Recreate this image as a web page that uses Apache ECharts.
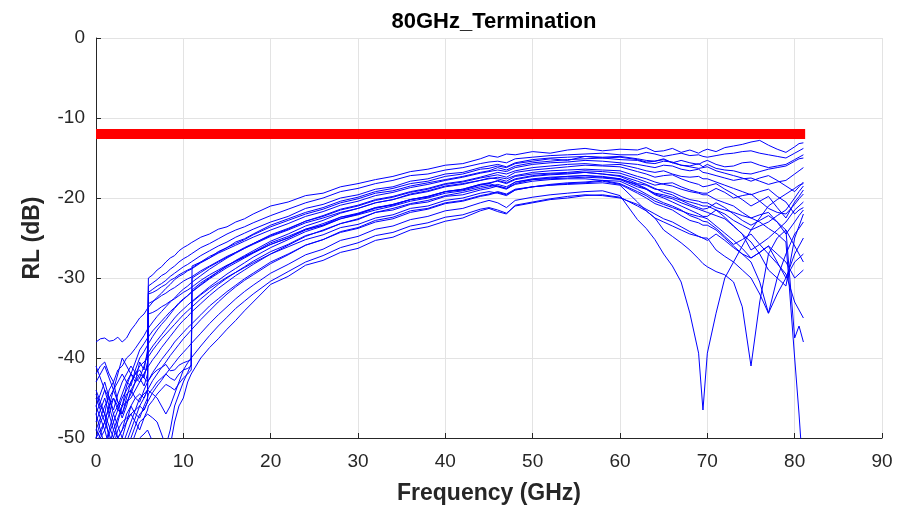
<!DOCTYPE html>
<html>
<head>
<meta charset="utf-8">
<script src="https://cdn.jsdelivr.net/npm/echarts@6/dist/echarts.min.js"></script>
<style>
html, body { margin: 0; padding: 0; background: #fff; }
#box { width: 910px; height: 510px; }
</style>
</head>
<body>
<div id="box"></div>
<script>
// frequency points (GHz) shared by every trace
var freq = [0,0.5,1,1.5,2,2.5,3,3.5,4,4.5,5,5.5,5.9,6,6.5,7,7.5,8,8.5,9,9.5,10,10.5,10.9,11,
    12,13,14,15,16,17,18,20,22,24,26,28,30,32,34,36,38,40,42,44,45,46,47,48,
    50,52,54,56,58,60,62,63,64,65,66,67,68,69,69.5,70,71,72,73,74,75,76,77,78,79,80,80.5,81];

// return loss traces (dB)
var t1 = [-44.5,-46,-47,-44,-43,-45.5,-46,-43.5,-42,-43,-40.5,-41.5,-39,-30,-29.6,-29,-28.6,-28,-27.5,-27.2,-26.6,-26.2,-25.9,-25.6,-25.5,
    -24.9,-24.5,-23.9,-23.6,-23,-22.6,-22,-21,-20.5,-19.7,-19.4,-18.6,-18.2,-17.7,-17.3,-16.7,-16.4,-15.9,-15.7,-15.1,-14.7,-14.9,-14.5,-14.6,
    -14.2,-14.4,-14,-13.8,-14.1,-13.9,-14,-13.7,-14.2,-14.1,-13.8,-14.3,-14,-14.4,-14.1,-13.9,-14.2,-13.7,-13.5,-13.3,-13,-12.8,-13.4,-13.9,-14.3,-13.6,-13.2,-13.1];
var t2 = [-41,-42.5,-44,-46,-48,-46.5,-45,-44,-43,-42,-41.5,-42.5,-40.5,-31,-30.6,-30.2,-29.7,-29.4,-28.9,-28.5,-28,-27.6,-27.3,-27,-26.9,
    -26.2,-25.7,-25.1,-24.5,-24,-23.6,-23.1,-22.2,-21.4,-20.6,-20,-19.2,-18.8,-18.2,-17.8,-17.2,-17,-16.5,-16.2,-15.7,-15.5,-15.4,-15.6,-15.1,
    -14.9,-14.7,-14.6,-14.5,-14.4,-14.6,-14.6,-14.3,-14.5,-14.8,-14.6,-14.4,-14.7,-14.6,-14.8,-14.9,-14.7,-14.5,-14.4,-14.2,-14.1,-14.4,-14.6,-14.8,-15,-14.4,-14.1,-13.8];
var t3 = [-38,-37.6,-37.5,-37.9,-37.8,-37.4,-38,-37.5,-36.5,-35.8,-35,-34.5,-33.8,-33.6,-33,-32.4,-31.9,-31.3,-30.8,-30.2,-29.8,-29.5,-29.1,-28.9,-28.8,
    -28.1,-27.5,-26.7,-26.2,-25.5,-25.1,-24.5,-23.4,-22.6,-21.8,-21.2,-20.4,-19.9,-19.2,-18.8,-18.2,-17.9,-17.3,-17,-16.4,-16.3,-16,-16.2,-15.7,
    -15.4,-15.1,-15.3,-14.8,-15,-14.9,-15.2,-15.5,-15.4,-15.1,-15.6,-15.3,-15.6,-15.8,-15.5,-15.3,-15.8,-16.1,-16,-15.6,-15.5,-15.9,-16.2,-16,-15.8,-15.2,-14.9,-14.6];
var t4 = [-48,-46.5,-45,-47,-49,-47.5,-46,-44.5,-44,-45,-45.5,-44,-43,-42.8,-42,-41.5,-41.2,-40.8,-41.6,-41.5,-40.9,-40.6,-40.4,-40.2,-28.5,
    -28,-27.3,-26.8,-26.2,-25.7,-25.2,-24.6,-23.6,-22.8,-22,-21.4,-20.6,-20.1,-19.4,-19.1,-18.5,-18.1,-17.7,-17.3,-16.8,-16.6,-16.2,-16.5,-16,
    -15.6,-15.4,-15.2,-15.1,-15,-15.2,-15.3,-15.6,-15.7,-15.4,-15.5,-15.9,-16,-15.7,-16.1,-15.8,-16.3,-16.5,-16.6,-16.9,-17,-16.7,-16.4,-16.2,-16,-15.4,-15.1,-15];
var t5 = [-46,-47.5,-49,-47,-45,-46,-47.5,-46,-44,-43,-42.5,-43.5,-42,-32,-31.8,-31.5,-31.1,-30.8,-30.3,-30,-29.6,-29.3,-29,-28.8,-28.7,
    -28,-27.5,-26.9,-26.4,-25.9,-25.4,-24.9,-24,-23.2,-22.3,-21.7,-20.9,-20.4,-19.7,-19.3,-18.7,-18.3,-17.8,-17.4,-16.9,-16.7,-16.5,-16.7,-16.2,
    -15.8,-15.6,-15.5,-15.3,-15.4,-15.6,-15.8,-16,-16.2,-15.9,-16,-16.4,-16.6,-16.4,-16.8,-16.9,-17.2,-17.5,-17.8,-17.6,-17.5,-17.9,-18.3,-18,-17.8,-17,-16.6,-16.2];
var t6 = [-42,-41,-40.5,-42,-43,-41.5,-41,-40,-39.5,-38.8,-38,-37.2,-36.4,-36.2,-35.5,-34.8,-34.2,-33.6,-33,-32.5,-31.9,-31.4,-31,-30.6,-30.5,
    -29.7,-28.9,-28.2,-27.5,-26.9,-26.3,-25.7,-24.6,-23.8,-22.9,-22.2,-21.4,-20.9,-20.2,-19.8,-19.2,-18.8,-18.2,-17.9,-17.4,-17.1,-16.8,-17,-16.6,
    -16.2,-16,-15.8,-15.7,-15.9,-15.8,-16.3,-16.6,-16.8,-16.6,-17,-17.3,-17.4,-17.3,-17.6,-17.6,-18,-18.4,-18.8,-19.2,-19.6,-19.2,-18.9,-19.8,-20.5,-22,-21.5,-21.2];
var t7 = [-50,-48,-47,-50,-52,-50,-49,-47,-46,-47,-47.5,-46,-45,-44.5,-43.8,-43,-42.5,-42,-42.5,-42.8,-42,-41.5,-41.3,-41,-30,
    -29.3,-28.6,-28,-27.4,-26.8,-26.2,-25.7,-24.7,-23.9,-22.9,-22.3,-21.5,-21,-20.3,-19.9,-19.3,-18.9,-18.3,-18,-17.5,-17.3,-17.1,-17.4,-16.8,
    -16.5,-16.3,-16.1,-15.9,-16,-16.1,-16.7,-17,-17.4,-17.2,-17.1,-17.6,-18,-18.3,-18.6,-18.5,-18.2,-18.9,-19.5,-20.2,-21,-20.4,-19.8,-21.2,-22.5,-20.5,-19.8,-19];
var t8 = [-45,-46.5,-48,-46,-44,-43,-42,-43,-43.5,-41.5,-40,-39.2,-38.4,-38.2,-37.3,-36.5,-35.8,-35.2,-34.5,-33.8,-33.2,-32.7,-32.2,-31.8,-31.7,
    -30.8,-30,-29.2,-28.5,-27.8,-27.2,-26.6,-25.4,-24.5,-23.5,-22.8,-21.9,-21.3,-20.6,-20.2,-19.5,-19.1,-18.5,-18.2,-17.8,-17.6,-17.4,-17.6,-17.2,
    -16.8,-16.6,-16.5,-16.4,-16.5,-16.6,-17.3,-17.6,-18,-18.3,-18.5,-18.9,-19.2,-19.4,-19.6,-19.6,-20.2,-20.6,-21,-21.8,-22.5,-22.1,-21.8,-23,-24.5,-23,-22.2,-21.5];
var t9 = [-49,-50,-51,-49,-47,-48.5,-50,-48,-46,-45,-44.5,-45,-44,-33.2,-32.9,-32.6,-32.2,-31.9,-31.5,-31.2,-30.8,-30.4,-30.1,-29.9,-29.8,
    -29.1,-28.5,-27.9,-27.3,-26.8,-26.3,-25.8,-24.8,-24,-23.1,-22.5,-21.8,-21.3,-20.6,-20.2,-19.6,-19.2,-18.6,-18.3,-17.8,-17.5,-17.6,-17.9,-17.3,
    -17,-16.9,-16.8,-16.6,-16.7,-16.9,-17.6,-18,-18.4,-18.2,-18.1,-18.6,-19,-19.3,-19.4,-19.4,-18.8,-19.3,-20,-19.7,-19.5,-20.4,-21.3,-21.8,-22,-20.8,-20.1,-19.5];
var t10 = [-47,-45.5,-44,-45,-46.5,-44.5,-43,-42,-41,-41.8,-42.5,-41,-39.5,-39.3,-38.5,-37.8,-37.1,-36.4,-35.7,-35,-34.4,-33.9,-33.4,-33,-32.9,
    -32,-31.1,-30.3,-29.5,-28.8,-28.1,-27.4,-26.2,-25.2,-24.2,-23.5,-22.6,-22,-21.3,-20.8,-20.2,-19.8,-19.2,-18.9,-18.3,-18.1,-17.9,-18.2,-17.7,
    -17.3,-17.1,-17,-16.8,-17,-17.2,-17.9,-18.3,-18.8,-19.3,-19.6,-20.2,-20.5,-20.8,-21,-21,-21.5,-22,-22.8,-23.4,-24,-23.5,-23,-22.2,-21.5,-20,-19.2,-18.5];
var t11 = [-52,-50,-49,-51,-51,-49,-48,-47.5,-47,-48,-49,-47.5,-46.5,-46,-45.3,-44.5,-43.9,-43.3,-43.6,-44,-43.2,-42.5,-42,-41.5,-31.5,
    -30.6,-29.9,-29.2,-28.5,-27.9,-27.4,-26.8,-25.6,-24.8,-23.9,-23.2,-22.4,-21.9,-21.2,-20.8,-20.2,-19.8,-19.2,-18.9,-18.3,-18.2,-17.8,-18.1,-17.6,
    -17.2,-17,-16.9,-16.8,-17,-17.3,-18.2,-18.4,-18.9,-19,-19.3,-19.8,-20.2,-20.4,-20.6,-20.6,-21.2,-21.5,-21.8,-22.2,-22.5,-23,-23.8,-24.5,-25.5,-40,-47,-55];
var t12 = [-44,-45.5,-47,-48.5,-50,-48,-46,-45.5,-45,-44,-43,-42,-41.2,-41,-40.2,-39.5,-38.7,-38,-37.3,-36.6,-35.9,-35.3,-34.8,-34.3,-34.2,
    -33.2,-32.2,-31.3,-30.5,-29.7,-29,-28.3,-27,-25.9,-24.8,-24,-23.2,-22.6,-21.8,-21.3,-20.7,-20.3,-19.7,-19.3,-18.8,-18.6,-18.3,-18.6,-18,
    -17.7,-17.5,-17.3,-17.2,-17.4,-17.6,-18.3,-18.8,-19.5,-19.8,-20.1,-20.6,-21,-21.4,-21.6,-21.8,-22.2,-22.6,-23.5,-24.5,-26.5,-25.8,-25,-24,-23,-21.5,-21,-20.5];
var t13 = [-50,-49,-48,-49.5,-51,-50,-49,-48,-47,-46.5,-46,-46.5,-45.5,-34.5,-34.3,-34,-33.6,-33.3,-32.9,-32.6,-32.2,-31.8,-31.5,-31.2,-31.1,
    -30.3,-29.6,-29,-28.4,-27.9,-27.3,-26.8,-25.8,-25,-24,-23.4,-22.6,-22.1,-21.5,-21,-20.4,-20,-19.4,-19.1,-18.6,-18.4,-18.6,-18.9,-18.2,
    -17.7,-17.6,-17.5,-17.4,-17.5,-17.7,-18.6,-18.9,-19.4,-19.6,-19.9,-20.3,-20.8,-21.2,-21.4,-21.3,-20.6,-21.2,-22,-22.8,-23.4,-22.8,-22.2,-23,-24,-37.5,-36,-38];
var t14 = [-47,-49,-51,-49.5,-48,-50,-52,-50.5,-49,-47.5,-46,-45,-44,-43.8,-42.8,-42,-41.2,-40.5,-39.7,-39,-38.3,-37.6,-37,-36.5,-36.4,
    -35.2,-34.1,-33,-32,-31.1,-30.3,-29.6,-28.2,-27.1,-25.9,-25.2,-24.3,-23.8,-23,-22.6,-21.8,-21.4,-20.7,-20.4,-19.8,-19.6,-19.3,-19.6,-19,
    -18.6,-18.3,-18.1,-18,-17.8,-18.2,-19.2,-19.7,-20.4,-20.8,-21.2,-21.6,-22,-22.3,-22.4,-22.6,-23.5,-24.4,-25.3,-26.3,-27.5,-26.8,-26,-28,-30,-27,-26,-25];
var t15 = [-53,-51,-50,-51.5,-52,-54,-55,-53,-51,-49.5,-48,-47.5,-47,-46.8,-47.5,-48,-49.5,-51,-49,-46,-44.5,-43,-41.8,-40.8,-33,
    -32.1,-31.3,-30.6,-29.9,-29.3,-28.7,-28.1,-27,-26.1,-25.2,-24.6,-23.7,-23.3,-22.5,-22.1,-21.3,-21,-20.3,-20,-19.4,-19.2,-19.4,-19.7,-19,
    -18.6,-18.4,-18.2,-18.1,-17.9,-18.3,-19.4,-20,-20.7,-21.1,-21.5,-22.2,-22.8,-23.1,-23.4,-23.4,-24,-25,-26,-27,-28,-30.5,-34.4,-30,-27,-24.5,-23.8,-23];
var t16 = [-51,-49.5,-48,-46,-45,-46.5,-47,-45.5,-44.5,-43,-42,-42.5,-43,-42.8,-41.8,-41,-40.2,-39.5,-38.8,-38,-37.4,-36.8,-36.2,-35.8,-35.7,
    -34.6,-33.5,-32.6,-31.7,-30.9,-30.1,-29.4,-28,-27,-25.9,-25.2,-24.2,-23.7,-22.8,-22.4,-21.6,-21.3,-20.6,-20.3,-19.7,-19.5,-19.2,-19.5,-18.9,
    -18.6,-18.4,-18.3,-18.2,-18.1,-18.4,-20.5,-21.6,-22.5,-24,-24.8,-25.6,-26.5,-27.6,-28.2,-28.6,-29.2,-29.6,-30.5,-33.6,-41,-33,-27,-25,-24,-26,-27,-28];
var t17 = [-55,-53,-52,-51,-50,-51.5,-53,-51.5,-50,-48.5,-47,-46.5,-45.5,-45.3,-44.3,-43.5,-42.8,-42,-41.3,-40.6,-39.9,-39.3,-38.7,-38.2,-38.1,
    -36.9,-35.7,-34.6,-33.6,-32.6,-31.7,-30.9,-29.4,-28.3,-27.1,-26.4,-25.3,-24.8,-23.9,-23.5,-22.7,-22.3,-21.6,-21.3,-20.6,-20.3,-20.6,-21.2,-20.3,
    -19.9,-19.6,-19.4,-19.2,-19.1,-19.7,-22.7,-23.8,-25.2,-27,-28.5,-30.5,-34.4,-39.4,-46.5,-39.4,-34.4,-30,-28,-26,-24,-22.5,-21,-20.2,-19.5,-18.8,-18.4,-18.2];
var t18 = [-50,-51.5,-53,-51,-49,-50,-51,-49.5,-48,-46.5,-45,-44.5,-44,-43.8,-44.5,-45,-46,-47,-46,-44.5,-43,-41.5,-40.6,-40,-39.9,
    -38.5,-37.2,-36,-34.9,-33.8,-32.9,-32,-30.4,-29.2,-28,-27.2,-26.2,-25.6,-24.7,-24.3,-23.5,-23.1,-22.4,-22.1,-21.4,-21.2,-21.5,-21.9,-21,
    -20.6,-20.2,-20,-19.7,-19.6,-19.9,-21,-21.6,-22.5,-23,-23.5,-24,-24.5,-24.8,-25,-25,-26.5,-27.3,-28,-29,-30,-32,-34.4,-32,-30,-28,-27.5,-27];
var t19 = [-56,-55,-54,-53.5,-53,-54,-55,-53.5,-52,-51,-50,-49.5,-49,-49,-50.5,-52,-54,-55,-51,-48,-46,-45,-43,-42,-41.8,
    -40,-38.7,-37.6,-36.4,-35.3,-34.1,-33,-30.8,-29.8,-28.4,-27.8,-26.8,-26.3,-25.3,-24.9,-24,-23.6,-22.9,-22.5,-21.6,-21.3,-21.7,-22,-20.9,
    -20.5,-20.1,-19.8,-19.6,-19.7,-20,-20.8,-21.4,-22,-22.6,-23,-23.6,-24.2,-24.8,-25,-25.3,-24.5,-25.3,-26.2,-27,-27.5,-26.8,-26,-27,-28,-30,-29.5,-29];
var t20 = [-43,-42,-41,-42.5,-44,-42,-40,-41,-42,-40.5,-39,-38.2,-37.5,-37.3,-36.6,-36,-35.4,-34.8,-34.2,-33.7,-33.1,-32.6,-32.2,-31.8,-31.7,
    -30.9,-30.1,-29.4,-28.7,-28.1,-27.5,-26.9,-25.8,-25,-23.9,-23.4,-22.4,-22,-21.2,-20.9,-20.2,-19.9,-19.2,-19,-18.4,-18.2,-18.5,-18.8,-18,
    -17.6,-17.4,-17.3,-17.2,-17.3,-17.6,-18.4,-18.9,-19.6,-20,-20.5,-21,-21.5,-22,-22.3,-22.3,-21.5,-22.4,-23.5,-24.5,-25.5,-27,-29,-30,-31,-25,-23.5,-22];
var t21 = [-46,-44.5,-43,-45,-47,-46,-44.5,-43,-42,-42.5,-43,-42,-41,-31.8,-31.4,-31,-30.7,-30.3,-29.8,-29.4,-29,-28.6,-28.3,-28,-27.9,
    -27.2,-26.6,-26,-25.5,-24.9,-24.4,-23.9,-23,-22.3,-21.3,-20.8,-20,-19.6,-18.9,-18.6,-17.9,-17.6,-17,-16.8,-16.2,-16,-15.8,-16.1,-15.6,
    -15.2,-15,-14.9,-14.8,-14.9,-14.8,-15.1,-15.3,-15.4,-15.2,-15.6,-15.9,-16.1,-16.3,-16.2,-16.1,-16.6,-16.9,-17.2,-17.5,-17.9,-17.5,-17.2,-17.8,-18.5,-19.2,-18.6,-18];
var t22 = [-49,-47.5,-46,-45,-44,-45.5,-47,-45,-43,-42,-41,-40.5,-40,-39.8,-39,-38.3,-37.6,-37,-36.4,-35.8,-35.2,-34.6,-34.1,-33.7,-33.6,
    -32.6,-31.7,-30.8,-30,-29.3,-28.6,-27.9,-26.7,-25.8,-24.7,-24.1,-23.2,-22.7,-21.8,-21.5,-20.8,-20.5,-19.8,-19.6,-19,-18.8,-18.5,-18.8,-18.3,
    -17.9,-17.7,-17.6,-17.6,-17.8,-17.9,-18.9,-19.5,-20.1,-20.6,-21,-21.5,-22.2,-22.6,-22.9,-23,-23.8,-24.8,-25.8,-25.2,-24.5,-25.8,-27,-28.2,-29.5,-33,-34,-35];

var traces = [t1,t2,t3,t4,t5,t6,t7,t8,t9,t10,t11,t12,t13,t14,t15,t16,t17,t18,t19,t20,t21,t22];

// spec limit line
var limitX = [0, 81.2];
var limitY = [-12, -12];

var xTicks = [0, 90, 10];
var yTicks = [-50, 0, 10];

var font = 'Liberation Sans, Arial, Helvetica, sans-serif';
var txt = '#262626';

var series = traces.map(function (t, i) {
    return {
        name: 'trace' + (i + 1),
        type: 'line',
        showSymbol: false,
        clip: true,
        lineStyle: { color: '#0000ff', width: 1 },
        data: freq.map(function (f, j) { return [f, t[j]]; })
    };
});
series.push({
    name: 'limit',
    type: 'line',
    showSymbol: false,
    lineStyle: { color: '#ff0000', width: 10, cap: 'butt' },
    data: limitX.map(function (x, j) { return [x, limitY[j]]; })
});

var chart = echarts.init(document.getElementById('box'));
chart.setOption({
    animation: false,
    backgroundColor: '#fff',
    title: {
        text: '80GHz_Termination',
        left: 489,
        textAlign: 'center',
        top: 6,
        textStyle: { fontFamily: font, fontSize: 22, fontWeight: 'bold', color: '#000' }
    },
    grid: { left: 96, right: 28, top: 38, bottom: 72 },
    xAxis: {
        type: 'value',
        min: xTicks[0], max: xTicks[1], interval: xTicks[2],
        name: 'Frequency (GHz)',
        nameLocation: 'middle',
        nameGap: 44,
        nameTextStyle: { fontFamily: font, fontSize: 23, fontWeight: 'bold', color: txt },
        axisLine: { onZero: false, lineStyle: { color: txt, width: 1 } },
        axisTick: { inside: true, length: 5, lineStyle: { color: txt } },
        axisLabel: { margin: 14, fontFamily: font, fontSize: 19, color: txt },
        splitLine: { show: true, lineStyle: { color: '#e3e3e3', width: 1 } }
    },
    yAxis: {
        type: 'value',
        min: yTicks[0], max: yTicks[1], interval: yTicks[2],
        name: 'RL (dB)',
        nameLocation: 'middle',
        nameGap: 52,
        nameTextStyle: { fontFamily: font, fontSize: 23, fontWeight: 'bold', color: txt },
        axisLine: { show: true, onZero: false, lineStyle: { color: txt, width: 1 } },
        axisTick: { show: true, inside: true, length: 5, lineStyle: { color: txt } },
        axisLabel: { margin: 11, fontFamily: font, fontSize: 19, color: txt },
        splitLine: { show: true, lineStyle: { color: '#e3e3e3', width: 1 } }
    },
    series: series
});
</script>
</body>
</html>
